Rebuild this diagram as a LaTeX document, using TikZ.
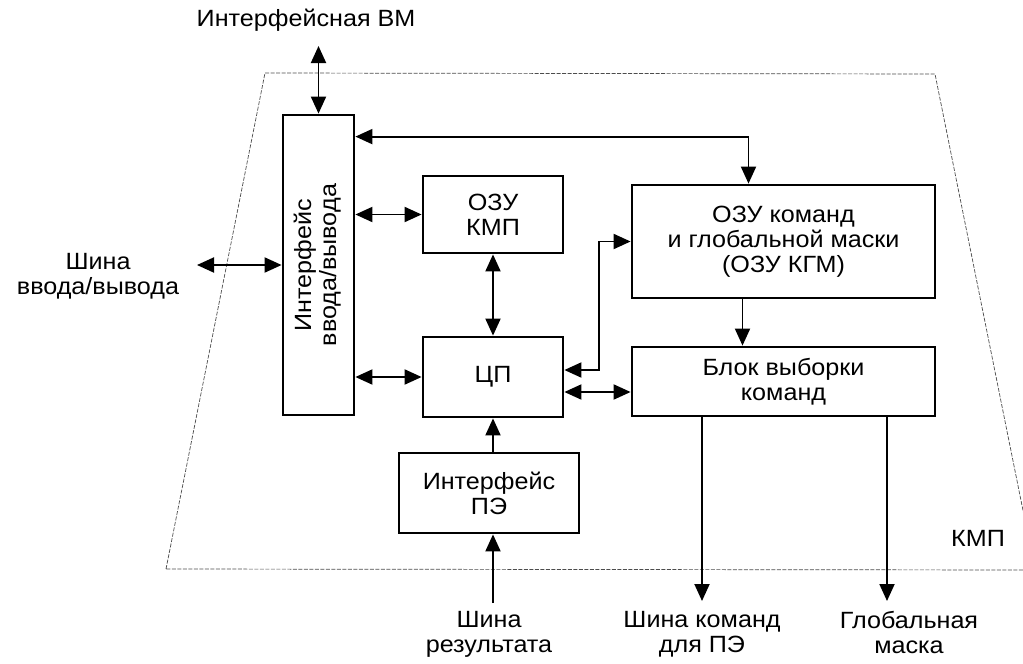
\documentclass[tikz,border=0pt]{standalone}
\usepackage{fontspec}
\setmainfont{Liberation Sans}[FakeStretch=1.07]
\usepackage{tikz}
\usetikzlibrary{arrows.meta,positioning,calc}
\tikzset{
  box/.style={rectangle, draw=black, fill=white, line width=2.8pt,
              align=center, inner sep=2pt, font=\fontsize{23.5}{25}\selectfont},
  lbl/.style={align=center, inner sep=1pt, font=\fontsize{23.5}{25}\selectfont},
  flow/.style={-{Triangle[length=17pt,width=15pt]}, draw=black, line width=1.9pt},
  dflow/.style={{Triangle[length=17pt,width=15pt]}-{Triangle[length=17pt,width=15pt]}, draw=black, line width=1.9pt},
  frame/.style={draw=black!70, line width=0.7pt, dash pattern=on 4pt off 1.5pt}
}
\begin{document}
\begin{tikzpicture}[x=1pt, y=-1pt]
 \useasboundingbox (0,0) rectangle (1023,664);
 % outline of the unit
 \draw[frame] (166,569) -- (265,73) -- (935,74) -- (1035,570) -- cycle;
 \node[lbl] (kmp) at (978,538) {КМП};
 % blocks
 \node[box, minimum width=71pt, minimum height=300pt] (io) at (318.5,265)
   {\rotatebox{90}{\begin{tabular}{@{}c@{}}Интерфейс\\ввода/вывода\end{tabular}}};
 \node[box, minimum width=140pt, minimum height=77pt] (ram) at (493,214.5) {ОЗУ\\КМП};
 \node[box, minimum width=140pt, minimum height=80pt] (cpu) at (493,377) {ЦП};
 \node[box, minimum width=303pt, minimum height=113pt] (kgm) at (783.5,241.5)
   {ОЗУ команд\\и глобальной маски\\(ОЗУ КГМ)};
 \node[box, minimum width=303pt, minimum height=69pt] (fetch) at (783.5,381.5) {Блок выборки\\команд};
 \node[box, minimum width=180pt, minimum height=80pt] (pei) at (489,493) {Интерфейс\\ПЭ};
 % outer labels
 \node[lbl] (vm) at (306,20) {Интерфейсная ВМ};
 \node[lbl] (iobus) at (98,276) {Шина\\ввода/вывода};
 \node[lbl, anchor=north] (resbus) at (489,610) {Шина\\результата};
 \node[lbl, anchor=north] (cmdbus) at (702,610) {Шина команд\\для ПЭ};
 \node[lbl, anchor=north] (mask) at (909,610) {Глобальная\\маска};
 \coordinate (vmtip) at (318.5,46);
 \coordinate (iotip) at (197,265);
 \coordinate (restip) at (493,603);
 \coordinate (masktip) at (887,601);
 \coordinate (cmdtip) at (702,601);
 % connectors
 \draw[dflow] (io.north) -- (vmtip);
 \draw[dflow] (io.west) -- (iotip);
 \draw[dflow] (ram.west -| io.east) -- (ram.west);
 \draw[dflow] (cpu.west -| io.east) -- (cpu.west);
 \draw[dflow] (ram.south) -- (cpu.north);
 \draw[dflow] ([yshift=-23pt]io.north east) -| ([xshift=-35pt]kgm.north);
 \draw[dflow] ([yshift=7pt]cpu.east) -- ++(35,0) |- (kgm.west);
 \coordinate (cpr) at ([yshift=-15pt]cpu.east);
 \draw[dflow] (cpr) -- (cpr -| fetch.west);
 \coordinate (kgmout) at ([xshift=-41pt]kgm.south);
 \draw[flow] (kgmout) -- (kgmout |- fetch.north);
 \draw[flow] (pei.north -| cpu.south) -- (cpu.south);
 \draw[flow] (restip) -- (restip |- pei.south);
 \draw[flow] (cmdtip |- fetch.south) -- (cmdtip);
 \draw[flow] (masktip |- fetch.south) -- (masktip);
\end{tikzpicture}
\end{document}
